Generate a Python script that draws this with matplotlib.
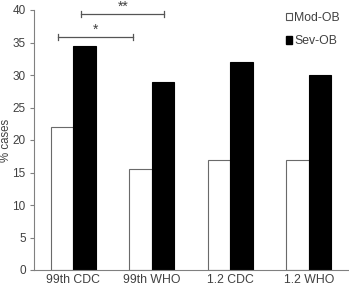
import numpy as np
import matplotlib
matplotlib.use("Agg")
from matplotlib import pyplot as plt
from matplotlib.patches import Patch

plt.rcParams["font.family"] = ["Liberation Sans", "DejaVu Sans"]

# data
categories = ["99th CDC", "99th WHO", "1.2 CDC", "1.2 WHO"]
mod_ob = [22, 15.5, 17, 17]
sev_ob = [34.5, 29, 32, 30]

# significance brackets: (x start, x end, y level, label)
bracket_x0 = [-0.2, 0.1]
bracket_x1 = [0.76, 1.16]
bracket_y = [35.8, 39.4]
bracket_lbl = ["*", "**"]

GRAY = "#808080"
TXT = "#404040"

fig = plt.figure(figsize=(3.49, 2.87), dpi=100, facecolor="white")
ax = fig.add_axes([34 / 349, 1 - 270 / 287, 314 / 349, 260 / 287])

x = np.arange(len(categories))
w = 0.285
ax.bar(x - w / 2, mod_ob, w, color="white", edgecolor="#6a6a6a", linewidth=0.8)
ax.bar(x + w / 2, sev_ob, w, color="black", edgecolor="black", linewidth=0.8)

ax.set_xlim(-0.5, 3.5)
ax.set_ylim(0, 40)
ax.set_yticks(range(0, 41, 5))
ax.set_xticks(x)
ax.set_xticklabels(categories)

for side in ["top", "right"]:
    ax.spines[side].set_visible(False)
ax.spines["left"].set_color(GRAY)
ax.spines["bottom"].set_color(GRAY)
ax.tick_params(axis="y", colors=GRAY, labelcolor=TXT, labelsize=8.5,
               length=3, width=0.8, pad=3)
ax.tick_params(axis="x", length=0, labelcolor=TXT, labelsize=8.8, pad=3)
ax.set_ylabel("% cases", color=TXT, fontsize=8.3, labelpad=0.5)

# significance brackets
cap = 0.45
for x0, x1, y, lbl in zip(bracket_x0, bracket_x1, bracket_y, bracket_lbl):
    ax.plot([x0, x1], [y, y], color="#555555", lw=0.9, clip_on=False)
    ax.plot([x0, x0], [y - cap, y + cap], color="#555555", lw=0.9, clip_on=False)
    ax.plot([x1, x1], [y - cap, y + cap], color="#555555", lw=0.9, clip_on=False)
    ax.text((x0 + x1) / 2, y + 1.1, lbl, ha="center", va="center",
            fontsize=10, color=TXT, clip_on=False)

handles = [
    Patch(facecolor="white", edgecolor="#555555", linewidth=0.8, label="Mod-OB"),
    Patch(facecolor="black", edgecolor="black", label="Sev-OB"),
]
ax.legend(
    handles=handles,
    loc="upper left",
    bbox_to_anchor=(277 / 349, 1 - 3 / 287),
    bbox_transform=fig.transFigure,
    frameon=False,
    fontsize=8.8,
    labelcolor=TXT,
    handlelength=0.55,
    handleheight=0.55,
    handletextpad=0.15,
    labelspacing=0.95,
    borderpad=0.2,
)

fig.savefig("out.png", dpi=100)
